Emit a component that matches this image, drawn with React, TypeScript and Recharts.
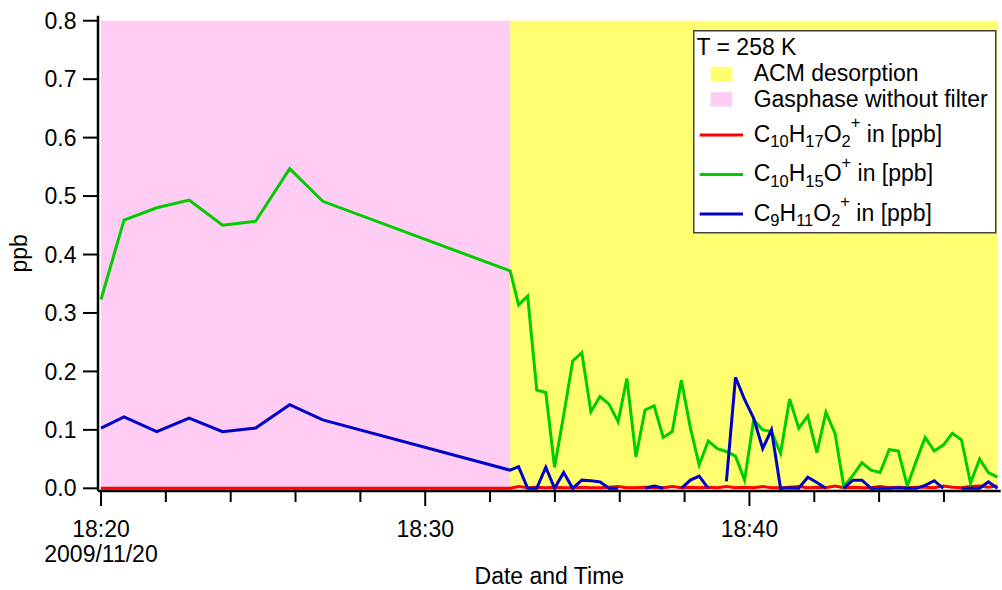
import { LineChart, Line, XAxis, YAxis, ReferenceArea, Legend } from 'recharts';

const FONT = '"Liberation Sans", Arial, Helvetica, sans-serif';
const PINK = '#ffccf4';
const YELLOW = '#ffff70';

// sample times in minutes after 18:20 (2009/11/20)
const minutes = [
  0, 0.71, 1.72, 2.72, 3.75, 4.77, 5.82, 6.84, 12.62,
  12.88, 13.16, 13.44, 13.72, 13.99, 14.27, 14.55, 14.83, 15.11, 15.39,
  15.67, 15.95, 16.22, 16.5, 16.78, 17.06, 17.34, 17.62, 17.9, 18.18,
  18.45, 18.73, 19.01, 19.29, 19.57, 19.85, 20.13, 20.41, 20.68, 20.96,
  21.24, 21.52, 21.8, 22.08, 22.36, 22.64, 22.91, 23.19, 23.47, 23.75,
  24.03, 24.31, 24.59, 24.87, 25.14, 25.42, 25.7, 25.98, 26.26, 26.54,
  26.82, 27.1, 27.37, 27.65,
];

// C10H17O2+ [ppb]
const c10h17o2 = [
  0, 0, 0, 0, 0, 0, 0, 0, 0,
  0.003, 0.001, 0.002, 0.001, 0.002, 0.001, 0.001, 0.002, 0.001, 0.001,
  0.002, 0.003, 0.001, 0.001, 0.002, 0.001, 0.001, 0.003, 0.001, 0.002,
  0.001, 0.002, 0.001, 0.003, 0.001, 0.002, 0.001, 0.003, 0.001, 0.001,
  0.002, 0.003, 0.001, 0.002, 0.001, 0.004, 0.001, 0.002, 0.001, 0.001,
  0.003, 0.001, 0.002, 0.001, 0.002, 0.002, 0.001, 0.004, 0.002, 0.001,
  0.003, 0.004, 0.002, 0.004,
];

// C10H15O+ [ppb]
const c10h15o = [
  0.323, 0.459, 0.48, 0.493, 0.45, 0.457, 0.547, 0.491, 0.372,
  0.314, 0.329, 0.168, 0.164, 0.036, 0.125, 0.218, 0.232, 0.131, 0.157,
  0.144, 0.114, 0.188, 0.054, 0.134, 0.141, 0.087, 0.097, 0.185, 0.103,
  0.04, 0.081, 0.068, 0.063, 0.055, 0.014, 0.117, 0.1, 0.097, 0.06,
  0.153, 0.103, 0.124, 0.061, 0.13, 0.094, 0.003, 0.022, 0.044, 0.031,
  0.027, 0.066, 0.064, 0.004, 0.046, 0.087, 0.064, 0.074, 0.094, 0.083,
  0.009, 0.05, 0.027, 0.019,
];

// C9H11O2+ [ppb], gaps where the signal dropped out
const c9h11o2 = [
  0.103, 0.122, 0.097, 0.12, 0.097, 0.103, 0.143, 0.117, 0.031,
  0.037, 0, 0, 0.036, 0, 0.027, 0, 0.014, 0.013, 0.011,
  0, 0, null, null, 0, 0.004, 0, null, 0, 0.014,
  0.021, 0, null, 0.012, 0.19, 0.152, 0.12, 0.068, 0.1, 0,
  0.001, 0, 0.019, 0.01, 0, null, 0, 0.014, 0.014, 0,
  0, 0, 0.001, 0, 0, 0.005, 0.013, 0, null, 0,
  0, 0, 0.011, 0,
];

const seriesKeys = ['c10h17o2', 'c10h15o', 'c9h11o2'];
const seriesColors = ['#ff0000', '#00cc00', '#0000cc'];
const seriesFormulas = ['C_10H_17O_2^+', 'C_10H_15O^+', 'C_9H_11O_2^+'];

const regionLabels = ['ACM desorption', 'Gasphase without filter'];
const regionFills = [YELLOW, PINK];
const gasphaseSpan = [0, 12.62];
const desorptionSpan = [12.62, 27.65];

const timeTicks = [0, 2, 4, 6, 8, 10, 12, 14, 16, 18, 20, 22, 24, 26];
const majorTicks = [0, 10, 20];
const majorLabels = ['18:20', '18:30', '18:40'];
const dateLabel = '2009/11/20';
const ppbTicks = [0, 0.1, 0.2, 0.3, 0.4, 0.5, 0.6, 0.7, 0.8];

const xDomain = [-0.0925, 27.75];
const yDomain = [-0.0046, 0.8086];

const rows = minutes.map((t, i) => ({
  t,
  c10h17o2: c10h17o2[i],
  c10h15o: c10h15o[i],
  c9h11o2: c9h11o2[i],
}));

const textStyle = { fill: '#000', fontSize: 23, fontFamily: FONT };

function TimeTick({ x, y, payload }: any) {
  const i = majorTicks.indexOf(payload.value);
  const major = i >= 0;
  return (
    <g>
      <line x1={x} x2={x} y1={y} y2={y + (major ? 15 : 11)} stroke="#000" strokeWidth={2} />
      {major && (
        <text x={x} y={y + 45.5} textAnchor="middle" {...textStyle}>
          {majorLabels[i]}
        </text>
      )}
      {i === 0 && (
        <text x={x} y={y + 70.7} textAnchor="middle" {...textStyle}>
          {dateLabel}
        </text>
      )}
    </g>
  );
}

function PpbLabel({ viewBox }: any) {
  const { x, y, height } = viewBox;
  return (
    <text transform={`translate(${x + 27},${y + height / 2}) rotate(-90)`} textAnchor="middle" {...textStyle}>
      ppb
    </text>
  );
}

// splits "C_10H_17O_2^+" into tspans with sub/superscripts
function Formula({ f, x, y }: { f: string; x: number; y: number }) {
  const parts = f.match(/_\d+|\^\+|[^_^]+/g) || [];
  let shift = 0;
  const spans = parts.map((p, i) => {
    let target = 0;
    let text = p;
    let size = 23;
    if (p[0] === '_') { target = 5.6; text = p.slice(1); size = 16.5; }
    else if (p[0] === '^') { target = -13.5; text = p.slice(1); size = 16.5; }
    const dy = target - shift;
    shift = target;
    return <tspan key={i} dy={dy} fontSize={size}>{text}</tspan>;
  });
  return (
    <text x={x} y={y} fill="#000" fontFamily={FONT} fontSize={23} style={{ whiteSpace: 'pre' }}>
      {spans}
      <tspan dy={-shift}> in [ppb]</tspan>
    </text>
  );
}

function LegendBox({ payload }: any) {
  const colorOf = (key: string, i: number) => {
    const entry = (payload || []).find((p: any) => p.dataKey === key);
    return entry?.color || seriesColors[i];
  };
  return (
    <svg width={304} height={204} style={{ display: 'block' }}>
      <rect x={0.75} y={0.75} width={302} height={202} fill="#fff" stroke="#404040" strokeWidth={1.5} />
      <text x={3.5} y={25} {...textStyle}>T = 258 K</text>
      {regionLabels.map((label, i) => (
        <g key={label}>
          <rect x={17.7} y={36.7 + i * 25.6} width={21.7} height={14.3} fill={regionFills[i]} />
          <text x={60.7} y={51 + i * 25.7} {...textStyle}>{label}</text>
        </g>
      ))}
      {seriesKeys.map((key, i) => (
        <g key={key}>
          <line x1={6.7} x2={50} y1={105 + i * 39.5} y2={105 + i * 39.5} stroke={colorOf(key, i)} strokeWidth={3} />
          <Formula f={seriesFormulas[i]} x={60.7} y={111.7 + i * 39.5} />
        </g>
      ))}
    </svg>
  );
}

export default function App() {
  return (
    <div style={{ position: 'absolute', left: 0, top: 0, width: 1002, height: 590, background: '#fff' }}>
      <LineChart width={1002} height={590} data={rows} margin={{ top: 15.7, right: 1.3, bottom: 0, left: 0 }}>
        <ReferenceArea x1={gasphaseSpan[0]} x2={gasphaseSpan[1]} y1={0} y2={0.8} fill={PINK} fillOpacity={1} stroke="none" />
        <ReferenceArea x1={desorptionSpan[0]} x2={desorptionSpan[1]} y1={0} y2={0.8} fill={YELLOW} fillOpacity={1} stroke="none" />
        <XAxis
          dataKey="t"
          type="number"
          domain={xDomain}
          ticks={timeTicks}
          interval={0}
          tickSize={0}
          tickMargin={0}
          tickLine={false}
          tick={<TimeTick />}
          axisLine={{ stroke: '#000', strokeWidth: 2.5 }}
          height={99}
          label={{ value: 'Date and Time', position: 'insideBottom', offset: 6, ...textStyle }}
        />
        <XAxis xAxisId="top" orientation="top" type="number" domain={xDomain} height={0} tick={false} tickLine={false} axisLine={{ stroke: '#000', strokeWidth: 2 }} />
        <YAxis
          type="number"
          domain={yDomain}
          ticks={ppbTicks}
          interval={0}
          tickFormatter={(v: number) => v.toFixed(1)}
          tickSize={15}
          tickMargin={6.5}
          tickLine={{ stroke: '#000', strokeWidth: 2 }}
          axisLine={{ stroke: '#000', strokeWidth: 2.5 }}
          tick={textStyle}
          width={98}
          label={{ value: 'ppb', content: PpbLabel }}
        />
        <YAxis yAxisId="right" orientation="right" type="number" domain={yDomain} width={0} tick={false} tickLine={false} axisLine={{ stroke: '#000', strokeWidth: 2 }} />
        {seriesKeys.map((key, i) => (
          <Line
            key={key}
            dataKey={key}
            name={seriesFormulas[i]}
            type="linear"
            stroke={seriesColors[i]}
            strokeWidth={3}
            dot={false}
            activeDot={false}
            connectNulls={false}
            isAnimationActive={false}
          />
        ))}
        <Legend
          layout="vertical"
          align="center"
          verticalAlign="middle"
          content={LegendBox}
          wrapperStyle={{ position: 'absolute', left: 693.3, top: 30, width: 304, height: 204 }}
        />
      </LineChart>
    </div>
  );
}
